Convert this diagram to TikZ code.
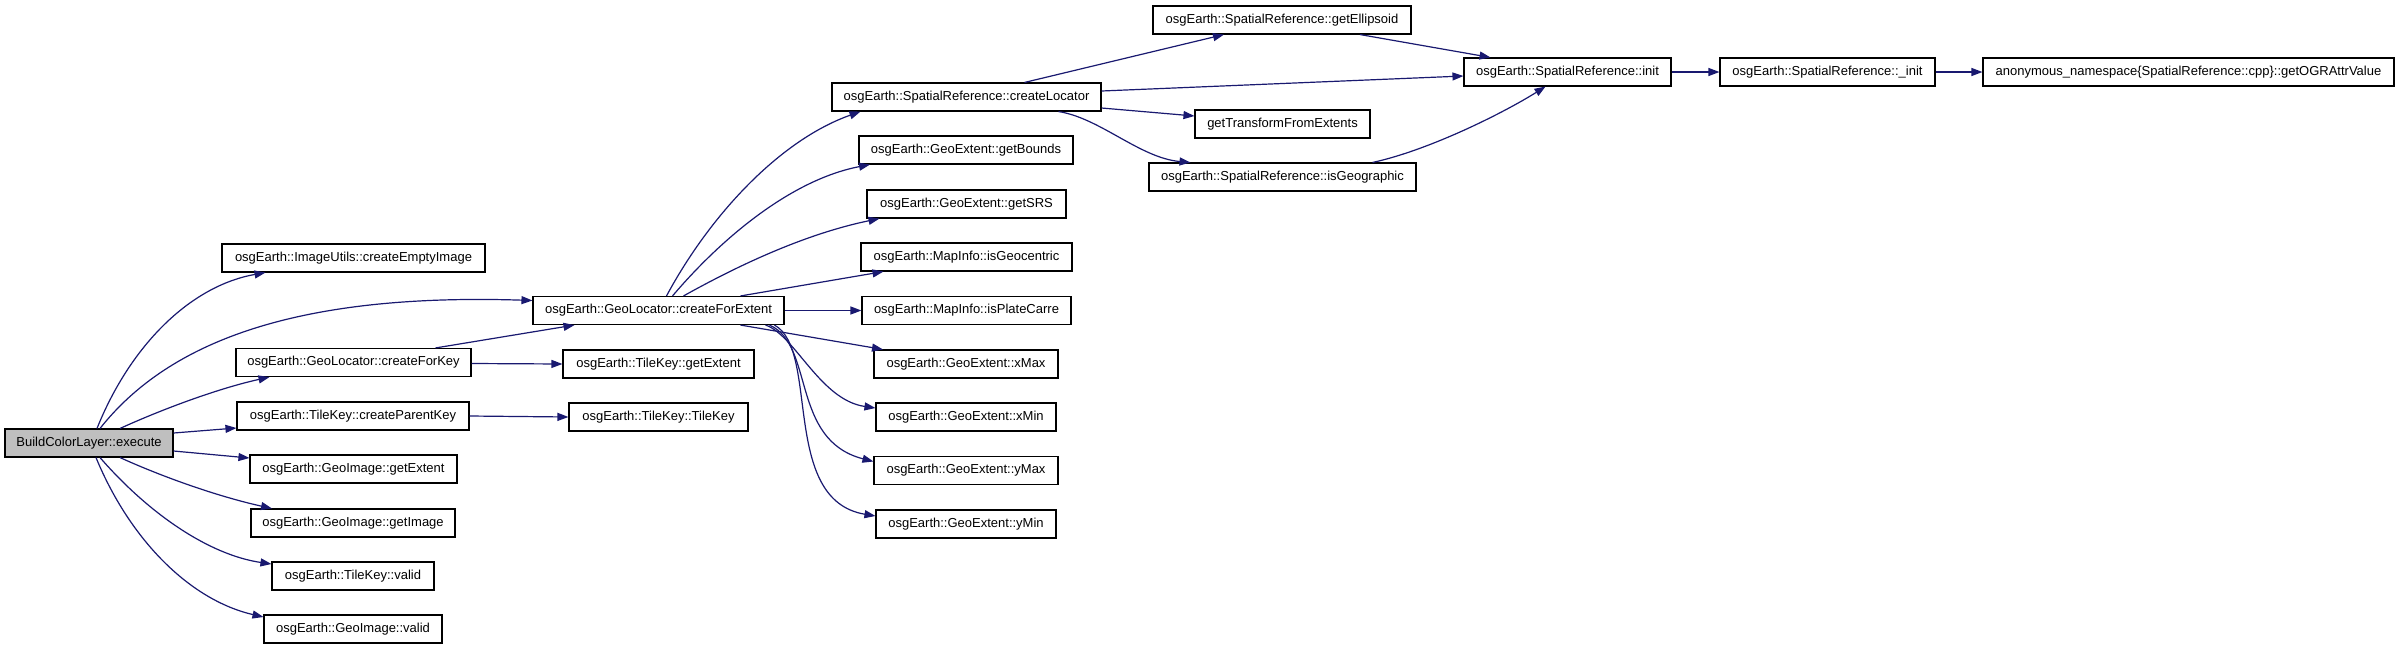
\documentclass[tikz,border=0pt]{standalone}
\usepackage{fontspec}
\setmainfont{Liberation Sans}
\usetikzlibrary{arrows.meta,calc}
\definecolor{edgecol}{HTML}{191970}
\definecolor{nodegray}{HTML}{BFBFBF}
\begin{document}
\begin{tikzpicture}[x=0.5pt,y=-0.5pt,
  fn/.style={draw=black,line width=0.55pt,fill=white,minimum height=14pt,inner sep=0pt,font=\fontsize{6.5pt}{7pt}\selectfont},
  ed/.style={draw=edgecol,line width=0.6pt,-{Triangle[length=5.5pt,width=4pt]}}]
\useasboundingbox (0,0) rectangle (2400,649);
\fill[white] (0,0) rectangle (2400,649);
% nodes
\node[fn,fill=nodegray,minimum width=84pt] (B) at (89,443) {BuildColorLayer::execute};
\node[fn,minimum width=131.5pt] (cei) at (353.5,258) {osgEarth::ImageUtils::createEmptyImage};
\node[fn,minimum width=117.5pt] (cfk) at (353.5,362.5) {osgEarth::GeoLocator::createForKey};
\node[fn,minimum width=116pt] (cpk) at (353,416) {osgEarth::TileKey::createParentKey};
\node[fn,minimum width=103.5pt] (gie) at (353.5,469) {osgEarth::GeoImage::getExtent};
\node[fn,minimum width=102pt] (gii) at (353,523) {osgEarth::GeoImage::getImage};
\node[fn,minimum width=81pt] (tkv) at (353,576) {osgEarth::TileKey::valid};
\node[fn,minimum width=89pt] (giv) at (353,629) {osgEarth::GeoImage::valid};
\node[fn,minimum width=125.5pt] (F) at (658.5,310.5) {osgEarth::GeoLocator::createForExtent};
\node[fn,minimum width=95.5pt] (tge) at (658.5,364) {osgEarth::TileKey::getExtent};
\node[fn,minimum width=89.5pt] (tkk) at (658.5,417) {osgEarth::TileKey::TileKey};
\node[fn,minimum width=134.5pt] (L) at (966.5,97) {osgEarth::SpatialReference::createLocator};
\node[fn,minimum width=107pt] (gb) at (966,150) {osgEarth::GeoExtent::getBounds};
\node[fn,minimum width=99.5pt] (srs) at (966.5,204) {osgEarth::GeoExtent::getSRS};
\node[fn,minimum width=105.5pt] (igc) at (966.5,257) {osgEarth::MapInfo::isGeocentric};
\node[fn,minimum width=104.5pt] (ipc) at (966.5,310.5) {osgEarth::MapInfo::isPlateCarre};
\node[fn,minimum width=92pt] (xmax) at (966,364) {osgEarth::GeoExtent::xMax};
\node[fn,minimum width=90pt] (xmin) at (966,417) {osgEarth::GeoExtent::xMin};
\node[fn,minimum width=92pt] (ymax) at (966,470.5) {osgEarth::GeoExtent::yMax};
\node[fn,minimum width=90pt] (ymin) at (966,524) {osgEarth::GeoExtent::yMin};
\node[fn,minimum width=129pt] (ge) at (1282,20) {osgEarth::SpatialReference::getEllipsoid};
\node[fn,minimum width=87.5pt] (gt) at (1282.5,124) {getTransformFromExtents};
\node[fn,minimum width=133.5pt] (ig) at (1282.5,177) {osgEarth::SpatialReference::isGeographic};
\node[fn,minimum width=103.5pt] (init) at (1567.5,72) {osgEarth::SpatialReference::init};
\node[fn,minimum width=107.5pt] (uinit) at (1827.5,72) {osgEarth::SpatialReference::\_init};
\node[fn,minimum width=205.5pt] (ogr) at (2188.5,72) {anonymous\_namespace\{SpatialReference::cpp\}::getOGRAttrValue};
% edges from B
\draw[ed] ($(B.north)+(8,0)$) .. controls (130,346) and (190,286) .. ($(cei.south)+(-88,0)$);
\draw[ed] ($(B.north)+(11,0)$) .. controls (170,340) and (300,293) .. ($(F.west)+(0,-10)$);
\draw[ed] ($(B.north)+(31,0)$) .. controls (165,408) and (220,388) .. ($(cfk.south)+(-84,0)$);
\draw[ed] ($(B.east)+(0,-10)$) -- ($(cpk.west)+(0,12)$);
\draw[ed] ($(B.east)+(0,8)$) -- ($(gie.west)+(0,-11)$);
\draw[ed] ($(B.south)+(31,0)$) .. controls (165,478) and (220,497) .. ($(gii.north)+(-81,0)$);
\draw[ed] ($(B.south)+(11,0)$) .. controls (150,515) and (210,555) .. ($(tkv.west)+(0,-12)$);
\draw[ed] ($(B.south)+(7,0)$) .. controls (130,540) and (190,600) .. ($(giv.west)+(0,-12)$);
% second column
\draw[ed] ($(cfk.north)+(82,0)$) -- ($(F.south)+(-84,0)$);
\draw[ed] ($(cfk.east)+(0,1)$) -- (tge.west);
\draw[ed] (cpk.east) -- (tkk.west);
% from F
\draw[ed] ($(F.north)+(8,0)$) .. controls (710,215) and (780,140) .. ($(L.south)+(-106,0)$);
\draw[ed] ($(F.north)+(14,0)$) .. controls (720,240) and (790,180) .. ($(gb.south)+(-96,0)$);
\draw[ed] ($(F.north)+(25,0)$) .. controls (730,270) and (800,235) .. ($(srs.south)+(-87,0)$);
\draw[ed] ($(F.north)+(82,0)$) -- ($(igc.south)+(-83,0)$);
\draw[ed] (F.east) -- (ipc.west);
\draw[ed] ($(F.south)+(82,0)$) -- ($(xmax.north)+(-83,0)$);
\draw[ed] ($(F.south)+(107,0)$) .. controls (795,335) and (820,400) .. ($(xmin.west)+(0,-9)$);
\draw[ed] ($(F.south)+(111,0)$) .. controls (815,345) and (790,440) .. ($(ymax.west)+(0,-9)$);
\draw[ed] ($(F.south)+(116,0)$) .. controls (820,350) and (780,500) .. ($(ymin.west)+(0,-8)$);
% from L
\draw[ed] ($(L.north)+(58,0)$) -- ($(ge.south)+(-58,0)$);
\draw[ed] ($(L.east)+(0,-6)$) -- ($(init.west)+(0,4)$);
\draw[ed] ($(L.east)+(0,11)$) -- ($(gt.west)+(0,-8)$);
\draw[ed] ($(L.south)+(92,0)$) .. controls (1100,118) and (1140,158) .. ($(ig.north)+(-92,0)$);
% to init
\draw[ed] ($(ge.south)+(78,0)$) -- ($(init.north)+(-77,0)$);
\draw[ed] ($(ig.north)+(90,0)$) .. controls (1430,150) and (1505,112) .. ($(init.south)+(-22,0)$);
\draw[ed] (init.east) -- (uinit.west);
\draw[ed] (uinit.east) -- (ogr.west);
\end{tikzpicture}
\end{document}
